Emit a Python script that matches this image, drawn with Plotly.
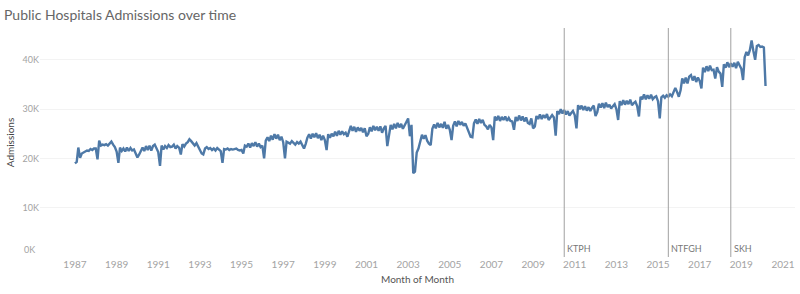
import pandas as pd
import plotly.graph_objects as go

# Monthly public hospital admissions (thousands), Jan 1987 - Mar 2020
start_month = "1987-01-01"
admissions_k = [
    19.0, 19.3, 22.2, 20.1, 21.0, 21.3, 21.4, 21.6, 21.5, 21.9, 21.7, 22.0,  # 1987
    22.0, 19.8, 23.6, 22.6, 22.8, 22.7, 22.9, 22.6, 23.0, 23.4, 22.8, 22.3,  # 1988
    21.4, 19.1, 22.2, 21.5, 22.0, 21.4, 22.2, 21.5, 22.1, 21.6, 21.8, 21.1,  # 1989
    20.2, 20.8, 21.6, 22.2, 21.5, 22.5, 21.7, 22.6, 21.6, 22.5, 22.8, 21.9,  # 1990
    21.3, 18.5, 22.6, 21.8, 22.5, 22.1, 22.7, 22.3, 22.4, 22.8, 22.0, 22.5,  # 1991
    22.2, 20.8, 22.9, 22.4, 23.0, 23.3, 23.9, 23.5, 23.0, 22.6, 23.1, 22.4,  # 1992
    21.5, 21.0, 20.8, 22.0, 22.3, 21.9, 22.1, 21.7, 22.0, 21.6, 22.1, 21.8,  # 1993
    21.5, 19.1, 21.9, 21.8, 22.0, 21.7, 21.9, 21.8, 21.9, 22.0, 21.7, 21.6,  # 1994
    21.7, 21.0, 22.6, 22.4, 23.0, 22.2, 23.1, 22.5, 23.3, 22.4, 23.0, 22.3,  # 1995
    22.6, 20.0, 23.6, 24.3, 23.5, 24.6, 23.8, 24.9, 24.0, 24.8, 23.7, 24.4,  # 1996
    23.3, 20.0, 23.4, 23.2, 23.0, 23.5, 23.1, 22.8, 23.3, 23.0, 23.4, 22.8,  # 1997
    22.0, 23.0, 24.2, 24.9, 24.0, 25.0, 24.3, 25.1, 24.1, 24.8, 23.7, 24.6,  # 1998
    23.7, 21.7, 24.9, 24.2, 25.0, 24.5, 25.4, 24.6, 25.6, 24.8, 25.5, 24.9,  # 1999
    25.2, 24.4, 25.6, 26.6, 25.6, 26.4, 25.4, 26.3, 25.6, 26.2, 25.3, 26.1,  # 2000
    24.5, 25.0, 26.3, 25.5, 26.6, 25.7, 26.4, 25.6, 26.5, 25.2, 26.1, 26.6,  # 2001
    22.5, 25.4, 26.8, 25.9, 27.0, 26.1, 27.2, 26.3, 27.0, 26.0, 26.9, 27.4,  # 2002
    28.1, 24.5, 26.8, 17.0, 17.3, 21.2, 22.0, 23.4, 24.8, 24.0, 24.7, 23.6,  # 2003
    23.0, 22.7, 26.0, 26.9, 26.1, 27.2, 26.3, 27.0, 26.2, 27.4, 26.0, 26.8,  # 2004
    25.8, 23.7, 26.6, 27.5, 26.5, 27.6, 26.8, 27.4, 26.6, 27.1, 26.2, 25.0,  # 2005
    24.4, 24.3, 27.1, 27.9, 27.0, 28.0, 27.2, 27.8, 26.8, 26.5, 25.9, 26.8,  # 2006
    26.3, 23.7, 28.5, 27.7, 28.6, 27.6, 28.4, 27.8, 28.5, 27.6, 28.2, 27.6,  # 2007
    27.5, 25.8, 28.4, 27.6, 28.7, 27.7, 28.5, 27.5, 28.3, 27.2, 27.0, 28.1,  # 2008
    26.1, 26.5, 28.6, 28.0, 28.9, 28.0, 28.8, 28.2, 29.0, 27.8, 28.4, 28.8,  # 2009
    28.3, 24.6, 29.6, 29.0, 30.0, 29.1, 29.8, 28.9, 29.6, 28.7, 29.2, 29.6,  # 2010
    28.8, 26.1, 30.8, 30.0, 30.7, 29.8, 30.6, 29.7, 30.4, 29.6, 30.3, 30.7,  # 2011
    28.6, 29.4, 31.1, 30.3, 31.2, 30.2, 31.3, 30.4, 30.9, 30.1, 30.6, 31.0,  # 2012
    30.0, 27.8, 31.6, 30.8, 31.8, 30.9, 31.7, 31.0, 31.9, 30.8, 31.2, 31.5,  # 2013
    30.6, 28.5, 32.5, 32.0, 33.0, 32.0, 32.8, 32.1, 32.9, 32.0, 32.4, 32.6,  # 2014
    31.6, 28.1, 32.4, 32.7, 32.3, 32.8, 32.5, 33.0, 32.6, 33.4, 34.3, 33.5,  # 2015
    32.5, 33.8, 36.2, 35.2, 36.4, 35.2, 36.6, 36.9, 35.8, 36.7, 35.5, 36.4,  # 2016
    35.7, 34.2, 38.4, 37.5, 38.7, 37.7, 38.8, 37.9, 38.0, 36.2, 38.5, 37.6,  # 2017
    37.2, 34.5, 39.1, 38.4, 39.5, 38.5, 39.3, 38.6, 39.4, 38.3, 39.6, 38.9,  # 2018
    38.2, 35.9, 40.5, 41.6, 40.9, 42.0, 43.9, 41.8, 40.0, 42.8, 43.0, 42.6,  # 2019
    42.7, 42.5, 34.7,                                                        # 2020
]

# Hospital openings shown as reference lines
event_dates = ["2010-07-01", "2015-07-01", "2018-07-01"]
event_names = ["KTPH", "NTFGH", "SKH"]

y_tick_vals = [0, 10000, 20000, 30000, 40000]
y_tick_text = ["", "10K", "20K", "30K", "40K"]
y_bottom_label = "0K"

months = pd.date_range(start_month, periods=len(admissions_k), freq="MS")
admissions = [v * 1000 for v in admissions_k]

FONT = "Lato"
TICK_GREY = "#a3a3a3"

fig = go.Figure()
fig.add_trace(go.Scatter(
    x=months, y=admissions, mode="lines",
    line=dict(color="#4e79a7", width=2.4),
    hoverinfo="x+y", showlegend=False,
))

for d, name in zip(event_dates, event_names):
    fig.add_shape(type="line", xref="x", yref="paper", x0=d, x1=d, y0=0, y1=1,
                  line=dict(color="#a0a0a0", width=1))
    fig.add_annotation(x=d, y=0, xref="x", yref="paper", text=name,
                       showarrow=False, xanchor="left", yanchor="bottom",
                       xshift=1, yshift=1,
                       font=dict(family=FONT, size=9, color="#777777"))

# bottom tick label nudged upward, as in the original
fig.add_annotation(x=0, y=0, xref="paper", yref="y", text=y_bottom_label,
                   showarrow=False, xanchor="right", yanchor="bottom",
                   xshift=-3, yshift=0,
                   font=dict(family=FONT, size=9, color=TICK_GREY))

fig.update_layout(
    width=800, height=294,
    margin=dict(l=40, r=5, t=28, b=37),
    paper_bgcolor="white", plot_bgcolor="white",
    title=dict(text="Public Hospitals Admissions over time",
               x=0.005, xanchor="left", y=0.95, yanchor="middle",
               font=dict(family=FONT, size=14, color="#666666")),
    font=dict(family=FONT),
)
fig.update_xaxes(
    type="date", range=["1985-04-28", "2021-07-31"],
    tick0="1987-01-01", dtick="M24", tickformat="%Y",
    showgrid=False, zeroline=False, showline=False, ticks="",
    tickfont=dict(family=FONT, size=10, color=TICK_GREY),
    title=dict(text="Month of Month", standoff=6,
               font=dict(family=FONT, size=10, color="#555555")),
)
fig.update_yaxes(
    range=[0, 46450], tickvals=y_tick_vals, ticktext=y_tick_text,
    showgrid=True, gridcolor="#f3f3f3", gridwidth=1,
    zeroline=False, showline=False, ticks="",
    tickfont=dict(family=FONT, size=9, color=TICK_GREY),
    title=dict(text="Admissions", standoff=6,
               font=dict(family=FONT, size=10, color="#444444")),
)

fig.write_html("out.html")
